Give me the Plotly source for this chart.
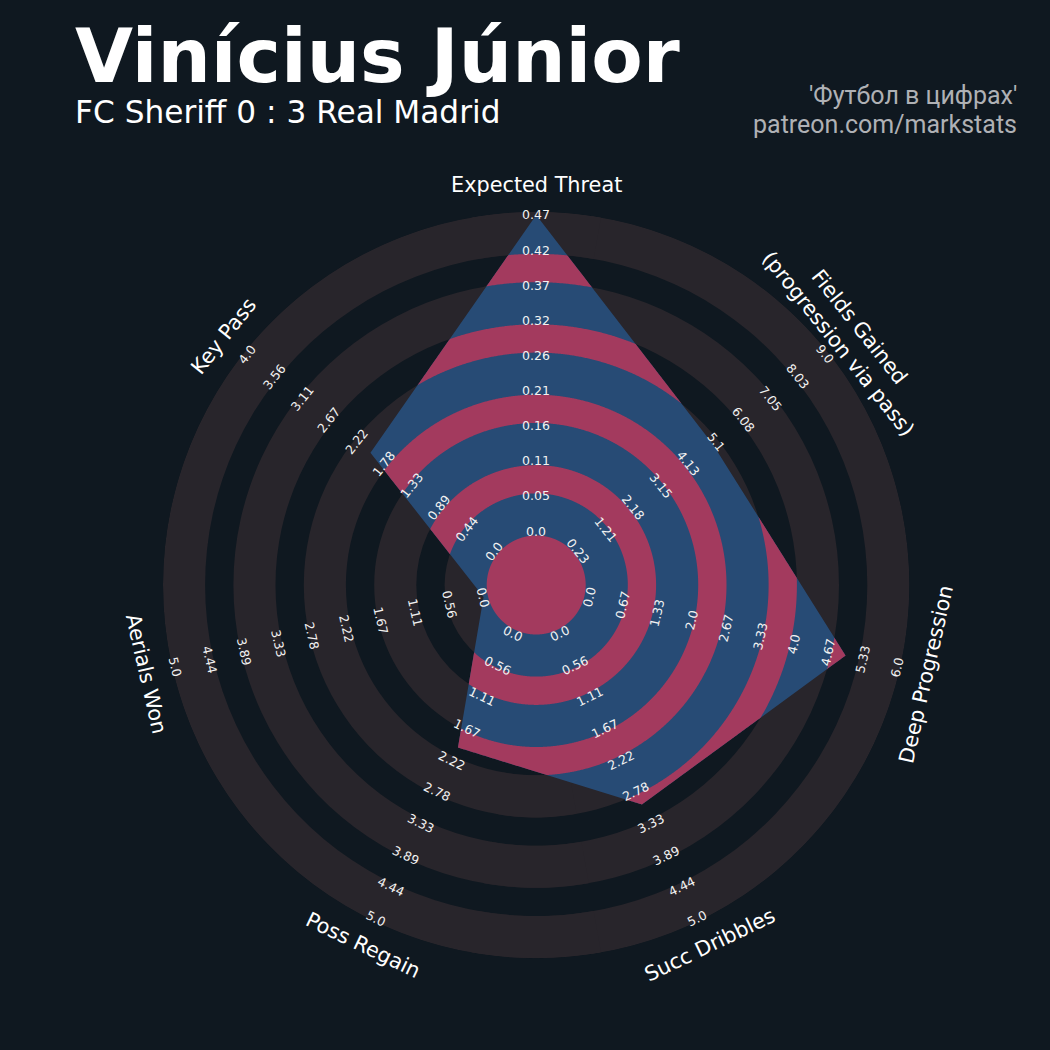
import numpy as np
import plotly.graph_objects as go

# radar data
params = ["Expected Threat", "Fields Gained<br>(progression via pass)", "Deep Progression",
          "Succ Dribbles", "Poss Regain", "Aerials Won", "Key Pass"]
low = [0.0, 0.23, 0.0, 0.0, 0.0, 0.0, 0.0]
high = [0.47, 9.0, 6.0, 5.0, 5.0, 5.0, 4.0]
values = [0.47, 5.0, 5.0, 3.0, 2.0, 0.0, 2.0]

tick_labels = [
    ["0.0", "0.05", "0.11", "0.16", "0.21", "0.26", "0.32", "0.37", "0.42", "0.47"],
    ["0.23", "1.21", "2.18", "3.15", "4.13", "5.1", "6.08", "7.05", "8.03", "9.0"],
    ["0.0", "0.67", "1.33", "2.0", "2.67", "3.33", "4.0", "4.67", "5.33", "6.0"],
    ["0.0", "0.56", "1.11", "1.67", "2.22", "2.78", "3.33", "3.89", "4.44", "5.0"],
    ["0.0", "0.56", "1.11", "1.67", "2.22", "2.78", "3.33", "3.89", "4.44", "5.0"],
    ["0.0", "0.56", "1.11", "1.67", "2.22", "2.78", "3.33", "3.89", "4.44", "5.0"],
    ["0.0", "0.44", "0.89", "1.33", "1.78", "2.22", "2.67", "3.11", "3.56", "4.0"],
]

title = "Vinícius Júnior"
subtitle = "FC Sheriff 0 : 3 Real Madrid"
credit = ["'Футбол в цифрах'", "patreon.com/markstats"]

# colours
BG = "#0f1820"
RING = "#28252b"
BLUE = "#274b75"
PINK = "#a33a5e"

# geometry (radial units = pixels)
W = H = 1050
CX, CY = 536.2, 585.0
CENTER_R = 49.5
WIDE = 42.1
GAP = 28.3
N_RINGS = 4
R_OUT = CENTER_R + (N_RINGS + 1) * WIDE + N_RINGS * GAP
R_MIN, R_MAX = 54.0, 370.0
LABEL_R = 400.0

n = len(params)
step = 360.0 / n
thetas = np.arange(n) * step


def to_r(v, lo, hi):
    return R_MIN + (v - lo) / (hi - lo) * (R_MAX - R_MIN)


r_vals = np.array([to_r(v, lo, hi) for v, lo, hi in zip(values, low, high)])


def poly_r(th):
    # radius of the radar polygon edge in direction th (deg)
    k = (np.floor(th / step).astype(int)) % n
    k2 = (k + 1) % n
    dt = np.radians(th - k * step)
    d = np.radians(step)
    r1, r2 = r_vals[k], r_vals[k2]
    return r1 * r2 * np.sin(d) / (r1 * np.sin(dt) + r2 * np.sin(d - dt))


samp = np.unique(np.concatenate([np.linspace(0, 360, 1441), thetas, [360.0]]))
samp = samp[samp <= 360]
rp = poly_r(np.where(samp >= 360, 0, samp))


def paper_xy(r, theta_deg):
    phi = np.radians(90 - theta_deg)
    return (CX + r * np.cos(phi)) / W, 1 - (CY - r * np.sin(phi)) / H


def text_angle(theta_deg):
    rot = (90 - theta_deg) - 90
    rot = (rot + 180) % 360 - 180
    if rot > 90:
        rot -= 180
    elif rot < -90:
        rot += 180
    return -rot


fig = go.Figure()

# background rings (two overlapping halves each, so no seam)
bases = [CENTER_R + k * (WIDE + GAP) for k in range(N_RINGS + 1)]
bar_base = [b for b in bases for _ in (0, 1)]
fig.add_trace(go.Barpolar(
    r=[WIDE] * len(bar_base), base=bar_base,
    theta=[90, 270] * len(bases), width=[200] * len(bar_base),
    marker=dict(color=RING, line=dict(width=0)), hoverinfo="skip"))

# radar polygon
fig.add_trace(go.Scatterpolar(
    r=np.append(r_vals, r_vals[0]), theta=np.append(thetas, thetas[0]),
    mode="lines", fill="toself", fillcolor=BLUE, line=dict(width=0, color=BLUE),
    hoverinfo="skip"))

# pink rings clipped to polygon
bands = [(0.0, CENTER_R)]
for k in range(N_RINGS):
    a = CENTER_R + WIDE + k * (WIDE + GAP)
    bands.append((a, a + GAP))
for a, b in bands:
    outer = np.clip(rp, a, b)
    fig.add_trace(go.Scatterpolar(
        r=np.concatenate([outer, np.full(len(samp), a)]),
        theta=np.concatenate([samp, samp[::-1]]),
        mode="lines", fill="toself", fillcolor=PINK, line=dict(width=0, color=PINK),
        hoverinfo="skip"))

annotations = []
# range labels
for i in range(n):
    for j, lab in enumerate(tick_labels[i]):
        r = R_MIN + j * (R_MAX - R_MIN) / (len(tick_labels[i]) - 1)
        x, y = paper_xy(r, thetas[i])
        annotations.append(dict(x=x, y=y, xref="paper", yref="paper", text=lab,
                                showarrow=False, textangle=text_angle(thetas[i]),
                                xanchor="center", yanchor="middle",
                                font=dict(family="DejaVu Sans", size=12.5, color="#f2f2f2")))
# param labels
for i in range(n):
    x, y = paper_xy(LABEL_R, thetas[i])
    annotations.append(dict(x=x, y=y, xref="paper", yref="paper", text=params[i],
                            showarrow=False, textangle=text_angle(thetas[i]),
                            xanchor="center", yanchor="middle", align="center",
                            font=dict(family="DejaVu Sans", size=20.8, color="#ffffff")))

annotations.append(dict(x=73 / W, y=1 - 56 / H, xref="paper", yref="paper", text="<b>" + title + "</b>",
                        showarrow=False, xanchor="left", yanchor="middle",
                        font=dict(family="DejaVu Sans", size=75, color="#ffffff")))
annotations.append(dict(x=73 / W, y=1 - 112 / H, xref="paper", yref="paper", text=subtitle,
                        showarrow=False, xanchor="left", yanchor="middle",
                        font=dict(family="DejaVu Sans", size=31.2, color="#ffffff")))
for k, line in enumerate(credit):
    annotations.append(dict(x=1019 / W, y=1 - (96 + 28 * k) / H, xref="paper", yref="paper", text=line,
                            showarrow=False, xanchor="right", yanchor="middle",
                            font=dict(family="Roboto", size=25, color="#afb1b5")))

fig.update_layout(
    width=W, height=H, margin=dict(l=0, r=0, t=0, b=0),
    paper_bgcolor=BG, plot_bgcolor=BG, showlegend=False,
    polar=dict(
        domain=dict(x=[(CX - R_OUT) / W, (CX + R_OUT) / W],
                    y=[(H - CY - R_OUT) / H, (H - CY + R_OUT) / H]),
        bgcolor="rgba(0,0,0,0)", bargap=0,
        radialaxis=dict(range=[0, R_OUT], visible=False, showgrid=False),
        angularaxis=dict(visible=False, direction="clockwise", rotation=90, showgrid=False),
    ),
    annotations=annotations,
)

fig.write_html("out.html", config={"displayModeBar": False},
               post_script="document.body.style.margin='0';document.body.style.background='" + BG + "';")
